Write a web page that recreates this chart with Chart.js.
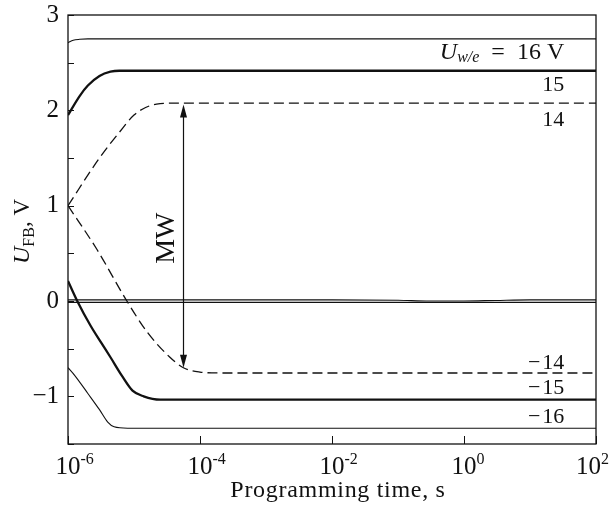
<!DOCTYPE html>
<html>
<head>
<meta charset="utf-8">
<script src="https://cdn.jsdelivr.net/npm/chart.js@4.4.0/dist/chart.umd.min.js"></script>
<style>
html,body{margin:0;padding:0;background:#fff}
</style>
</head>
<body>
<canvas id="chart" width="610" height="508"></canvas>
<script>
// ── Data ──
const xTickValues = [1e-6, 1e-4, 1e-2, 1e0, 1e2];

const t16 = [1e-6, 1.2e-6, 1.5e-6, 2e-6, 1e2];
const u16 = [2.71, 2.735, 2.745, 2.75, 2.75];

const t15 = [1e-6, 1.5e-6, 2e-6, 3e-6, 4.4e-6, 6e-6, 1e2];
const u15 = [1.95, 2.15, 2.26, 2.36, 2.405, 2.415, 2.415];

const t14 = [1e-6, 3e-6, 6e-6, 1e-5, 1.5e-5, 2.2e-5, 4e-5, 1e2];
const u14 = [1.0, 1.5, 1.77, 1.95, 2.03, 2.065, 2.075, 2.075];

const tZero = [1e-6, 1e-2, 1e-1, 3e-1, 1e0, 3e0, 1e1, 1e2];
const uZeroA = [0.012, 0.012, 0.008, 0.0, 0.0, 0.006, 0.012, 0.012];
const tZeroB = [1e-6, 1e2];
const uZeroB = [-0.014, -0.014];

const tm14 = [1e-6, 2.75e-6, 7.8e-6, 1.6e-5, 3.5e-5, 5.6e-5, 1e-4, 2e-4, 1e2];
const um14 = [1.0, 0.54, 0.0, -0.33, -0.59, -0.70, -0.745, -0.755, -0.755];

const tm15 = [1e-6, 1.38e-6, 2.2e-6, 3.2e-6, 4.4e-6, 6.5e-6, 9.5e-6, 1.4e-5, 2.5e-5, 1e2];
const um15 = [0.21, 0.0, -0.26, -0.44, -0.59, -0.78, -0.94, -1.0, -1.035, -1.035];

const tm16 = [1e-6, 1.26e-6, 2e-6, 3e-6, 4e-6, 5e-6, 8e-6, 1e2];
const um16 = [-0.70, -0.78, -0.97, -1.14, -1.27, -1.32, -1.335, -1.335];

// curve labels (right side) and memory-window arrow
const curveLabels = ['15', '14', '\u2212\u200a14', '\u2212\u200a15', '\u2212\u200a16'];
const curveLabelU = [2.26, 1.90, -0.65, -0.91, -1.22];
const topLabelU = 2.6;
const labelTime = 33;
const mwTime = 5.5e-5, mwTop = 2.06, mwBottom = -0.70;

const SERIF = '"Liberation Serif", "DejaVu Serif", serif';

function pts(xs, ys) { return xs.map((x, i) => ({ x, y: ys[i] })); }

function line(xs, ys, width, dash) {
    return { data: pts(xs, ys), borderColor: '#111', borderWidth: width, borderDash: dash || [],
             pointRadius: 0, fill: false, cubicInterpolationMode: 'monotone' };
}

function richWidth(ctx, parts) {
    let total = 0;
    parts.forEach(p => { ctx.font = p.font; total += ctx.measureText(p.t).width; });
    return total;
}

// draw a run of text pieces (font, dy) starting at x, or aligned right/center
function drawRich(ctx, parts, x, y, align) {
    const total = richWidth(ctx, parts);
    let cx = align === 'right' ? x - total : align === 'center' ? x - total / 2 : x;
    ctx.textAlign = 'left';
    parts.forEach(p => {
        ctx.font = p.font;
        ctx.fillText(p.t, cx, y + (p.dy || 0));
        cx += ctx.measureText(p.t).width;
    });
}

const decorPlugin = {
    id: 'decor',
    afterDraw(chart) {
        const ctx = chart.ctx, a = chart.chartArea;
        const xs = chart.scales.x, ys = chart.scales.y;
        ctx.save();
        ctx.strokeStyle = '#111'; ctx.fillStyle = '#111';
        ctx.lineWidth = 1.3;
        ctx.strokeRect(a.left, a.top, a.right - a.left, a.bottom - a.top);

        // inward ticks
        ctx.lineWidth = 1;
        ctx.beginPath();
        ys.ticks.forEach(t => {
            const py = Math.round(ys.getPixelForValue(t.value)) + 0.5;
            ctx.moveTo(a.left, py); ctx.lineTo(a.left + 6, py);
        });
        xs.ticks.forEach(t => {
            const px = Math.round(xs.getPixelForValue(t.value)) + 0.5;
            ctx.moveTo(px, a.bottom); ctx.lineTo(px, a.bottom - 8);
        });
        ctx.stroke();

        // x tick labels 10^n, "10" centred on the tick, kept inside the canvas
        ctx.textBaseline = 'alphabetic';
        xs.ticks.forEach(t => {
            const px = xs.getPixelForValue(t.value);
            const e = Math.round(Math.log10(t.value));
            const parts = [
                { t: '10', font: '25px ' + SERIF },
                { t: e < 0 ? '-' + (-e) : String(e), font: '16px ' + SERIF, dy: -10 }
            ];
            ctx.font = '25px ' + SERIF;
            const w = ctx.measureText('10').width;
            let x0 = px - w / 2;
            const total = richWidth(ctx, parts);
            if (x0 + total > chart.width - 1) x0 = chart.width - 1 - total;
            drawRich(ctx, parts, x0, a.bottom + 30, 'left');
        });

        // axis titles
        ctx.font = '24px ' + SERIF;
        ctx.letterSpacing = '0.7px';
        ctx.textAlign = 'center';
        ctx.fillText('Programming time, s', (a.left + a.right) / 2 + 6, 497);
        ctx.letterSpacing = '0px';

        ctx.save();
        ctx.translate(29, (a.top + a.bottom) / 2 + 2);
        ctx.rotate(-Math.PI / 2);
        drawRich(ctx, [
            { t: 'U', font: 'italic 24px ' + SERIF },
            { t: 'FB', font: '16px ' + SERIF, dy: 5 },
            { t: ', V', font: '23px ' + SERIF }
        ], 0, 0, 'center');
        ctx.restore();

        // curve labels
        const lx = xs.getPixelForValue(labelTime);
        ctx.textBaseline = 'middle';
        drawRich(ctx, [
            { t: 'U', font: 'italic 24px ' + SERIF },
            { t: 'w/e', font: 'italic 16px ' + SERIF, dy: 5 },
            { t: '\u2002=\u2002', font: '24px ' + SERIF },
            { t: '16 V', font: '24px ' + SERIF }
        ], lx, ys.getPixelForValue(topLabelU), 'right');
        curveLabels.forEach((s, i) => {
            drawRich(ctx, [{ t: s, font: '22px ' + SERIF }], lx, ys.getPixelForValue(curveLabelU[i]), 'right');
        });

        // MW arrow
        const ax = Math.round(xs.getPixelForValue(mwTime)) + 0.5;
        const y1 = ys.getPixelForValue(mwTop), y2 = ys.getPixelForValue(mwBottom);
        ctx.lineWidth = 1.2;
        ctx.beginPath(); ctx.moveTo(ax, y1 + 10); ctx.lineTo(ax, y2 - 10); ctx.stroke();
        ctx.beginPath(); ctx.moveTo(ax, y1); ctx.lineTo(ax - 3.5, y1 + 13); ctx.lineTo(ax + 3.5, y1 + 13); ctx.closePath(); ctx.fill();
        ctx.beginPath(); ctx.moveTo(ax, y2); ctx.lineTo(ax - 3.5, y2 - 13); ctx.lineTo(ax + 3.5, y2 - 13); ctx.closePath(); ctx.fill();

        ctx.save();
        ctx.translate(ax - 17, (y1 + y2) / 2 + 2);
        ctx.rotate(-Math.PI / 2);
        ctx.textBaseline = 'middle';
        drawRich(ctx, [{ t: 'MW', font: '28px ' + SERIF }], 0, 0, 'center');
        ctx.restore();

        ctx.restore();
    }
};

new Chart(document.getElementById('chart').getContext('2d'), {
    type: 'line',
    data: {
        datasets: [
            line(t16, u16, 1.1),
            line(t15, u15, 2.3),
            line(t14, u14, 1.3, [10, 5]),
            line(tZero, uZeroA, 1.1),
            line(tZeroB, uZeroB, 1.1),
            line(tm14, um14, 1.3, [10, 5]),
            line(tm15, um15, 2.3),
            line(tm16, um16, 1.1)
        ]
    },
    options: {
        responsive: false, animation: false,
        layout: { padding: { left: 0, right: 14, top: 15, bottom: 0 } },
        plugins: { legend: { display: false }, tooltip: { enabled: false } },
        scales: {
            x: {
                type: 'logarithmic', min: 1e-6, max: 1e2,
                afterBuildTicks: (s) => { s.ticks = xTickValues.map(v => ({ value: v })); },
                afterFit: (s) => { s.height = 64; s.paddingLeft = 0; s.paddingRight = 0; },
                grid: { display: false }, border: { display: false },
                ticks: { display: false }
            },
            y: {
                min: -1.5, max: 3,
                afterFit: (s) => { s.width = 68; s.paddingTop = 0; s.paddingBottom = 0; },
                grid: { display: false, drawTicks: false }, border: { display: false },
                ticks: {
                    stepSize: 0.5, padding: 9, color: '#111',
                    font: { family: SERIF, size: 25 },
                    callback: (v) => Number.isInteger(v) ? (v < 0 ? '\u2212' + (-v) : String(v)) : ''
                }
            }
        }
    },
    plugins: [decorPlugin]
});
</script>
</body>
</html>
